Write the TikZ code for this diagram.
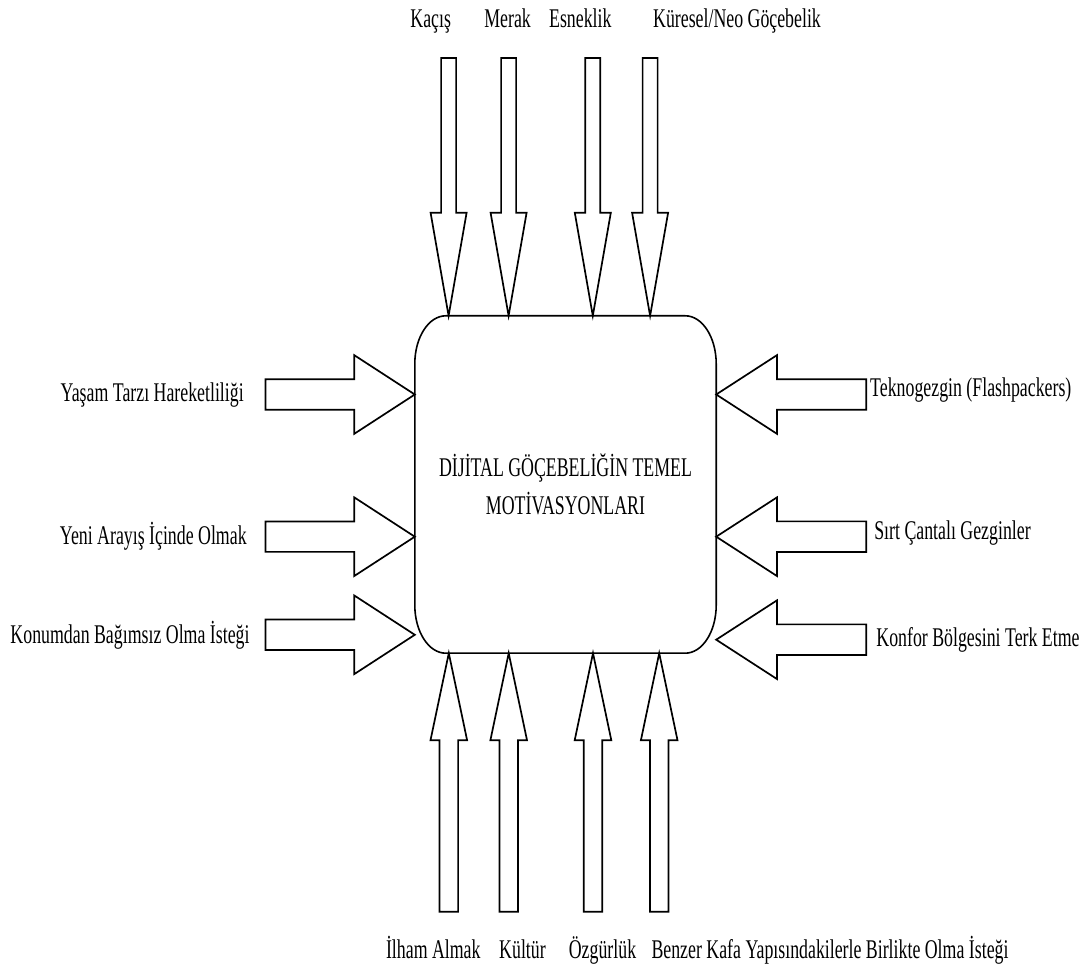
\documentclass[tikz,border=0pt]{standalone}
\usepackage{fontspec}
\setmainfont{Liberation Serif}[FakeStretch=0.66]
\usetikzlibrary{calc}
\tikzset{
  lbl/.style={inner sep=0pt, font=\fontsize{27}{38}\selectfont, text=black},
  ba/.style={draw=black, line width=1.7pt, line join=miter, fill=white},
  boxline/.style={draw=black, line width=1.6pt},
}
% #1 tip, #2 tail, (#3,#4) unit direction from tip to tail, #5 shaft half width, #6 head half width, #7 head length
\newcommand\barrow[7]{%
  \draw[ba] (#1)
    -- ([shift={({#7*#3-#6*#4},{#7*#4+#6*#3})}]#1)
    -- ([shift={({#7*#3-#5*#4},{#7*#4+#5*#3})}]#1)
    -- ([shift={({-#5*#4},{#5*#3})}]#2)
    -- ([shift={({#5*#4},{-#5*#3})}]#2)
    -- ([shift={({#7*#3+#5*#4},{#7*#4-#5*#3})}]#1)
    -- ([shift={({#7*#3+#6*#4},{#7*#4-#6*#3})}]#1)
    -- cycle;}
\begin{document}
\begin{tikzpicture}[x=1pt,y=1pt]
\useasboundingbox (0,0) rectangle (1092,967);
% central box
\node[lbl, minimum width=301pt, minimum height=337pt, align=center] (box) at (565.5,482.5)
  {DİJİTAL GÖÇEBELİĞİN TEMEL\\MOTİVASYONLARI};
% top labels
\node[lbl, anchor=base] (kacis) at (430.7,939) {Kaçış};
\node[lbl, anchor=base] (merak) at (507.6,939) {Merak};
\node[lbl, anchor=base] (esnek) at (580.3,939) {Esneklik};
\node[lbl, anchor=base] (kures) at (737,939) {Küresel/Neo Göçebelik};
% bottom labels
\node[lbl, anchor=base] (ilham) at (433.3,9) {İlham Almak};
\node[lbl, anchor=base] (kultur) at (522.5,9) {Kültür};
\node[lbl, anchor=base] (ozgur) at (602.5,9) {Özgürlük};
\node[lbl, anchor=base] (benzer) at (830,9) {Benzer Kafa Yapısındakilerle Birlikte Olma İsteği};
% left labels
\node[lbl, anchor=base] (yasam) at (152.2,565.3) {Yaşam Tarzı Hareketliliği};
\node[lbl, anchor=base] (yeni) at (153.3,422) {Yeni Arayış İçinde Olmak};
\node[lbl, anchor=base] (konum) at (130,323.7) {Konumdan Bağımsız Olma İsteği};
% right labels
\node[lbl, anchor=base] (tekno) at (970.8,570.3) {Teknogezgin (Flashpackers)};
\node[lbl, anchor=base] (sirt) at (952.5,427) {Sırt Çantalı Gezginler};
\node[lbl, anchor=base] (konfor) at (978,320.3) {Konfor Bölgesini Terk Etme};
% arrow tails
\coordinate (tt1) at (448.6,909);
\coordinate (tt2) at (508.6,909);
\coordinate (tt3) at (592.8,909);
\coordinate (tt4) at (650.1,909);
\coordinate (tb1) at (448.8,55.3);
\coordinate (tb2) at (508.7,55.3);
\coordinate (tb3) at (593.0,55.3);
\coordinate (tb4) at (659.2,55.3);
\coordinate (tl1) at (265.5,572.5);
\coordinate (tl2) at (265.5,430.3);
\coordinate (tl3) at (265.5,332.2);
\coordinate (tr1) at (866.3,572.5);
\coordinate (tr2) at (866.3,430.3);
\coordinate (tr3) at (866.3,327.3);
% arrow tips on the box
\coordinate (pt1) at (tt1 |- box.north);
\coordinate (pt2) at (tt2 |- box.north);
\coordinate (pt3) at (tt3 |- box.north);
\coordinate (pt4) at (tt4 |- box.north);
\coordinate (pb1) at (tb1 |- box.south);
\coordinate (pb2) at (tb2 |- box.south);
\coordinate (pb3) at (tb3 |- box.south);
\coordinate (pb4) at (tb4 |- box.south);
\coordinate (pl1) at (box.west |- tl1);
\coordinate (pl2) at (box.west |- tl2);
\coordinate (pl3) at (box.west |- tl3);
\coordinate (pr1) at (box.east |- tr1);
\coordinate (pr2) at (box.east |- tr2);
\coordinate (pr3) at (box.east |- tr3);
% arrows
\barrow{pt1}{tt1}{0}{1}{7.5}{18}{103}
\barrow{pt2}{tt2}{0}{1}{7.5}{18}{103}
\barrow{pt3}{tt3}{0}{1}{7.5}{18}{103}
\barrow{pt4}{tt4}{0}{1}{7.5}{18}{103}
\barrow{pb1}{tb1}{0}{-1}{9.3}{18.3}{87}
\barrow{pb2}{tb2}{0}{-1}{9.3}{18.3}{87}
\barrow{pb3}{tb3}{0}{-1}{9.3}{18.3}{87}
\barrow{pb4}{tb4}{0}{-1}{9.3}{18.3}{87}
\barrow{pl1}{tl1}{-1}{0}{15.2}{39.3}{60.5}
\barrow{pl2}{tl2}{-1}{0}{15.2}{39.3}{60.5}
\barrow{pl3}{tl3}{-1}{0}{15.2}{39.3}{60.5}
\barrow{pr1}{tr1}{1}{0}{15.3}{39.3}{60.7}
\barrow{pr2}{tr2}{1}{0}{15.3}{39.3}{60.7}
\barrow{pr3}{tr3}{1}{0}{15.3}{39.3}{60.7}
% box border with elliptical corners
\draw[boxline] ([xshift=31pt]box.north west) -- ([xshift=-31pt]box.north east)
  arc[start angle=90, end angle=0, x radius=31pt, y radius=48pt]
  -- ([yshift=48pt]box.south east)
  arc[start angle=0, end angle=-90, x radius=31pt, y radius=48pt]
  -- ([xshift=31pt]box.south west)
  arc[start angle=270, end angle=180, x radius=31pt, y radius=48pt]
  -- ([yshift=-48pt]box.north west)
  arc[start angle=180, end angle=90, x radius=31pt, y radius=48pt]
  -- cycle;
\end{tikzpicture}
\end{document}
